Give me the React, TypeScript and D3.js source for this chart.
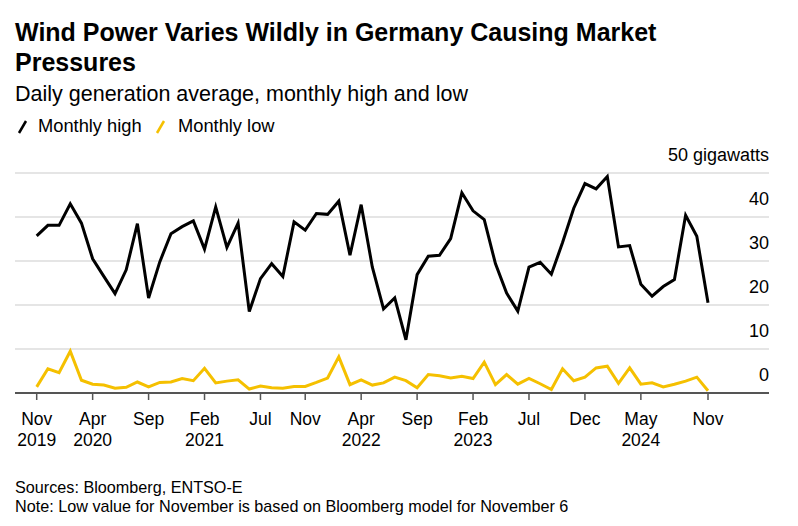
import React from "react";
import * as d3 from "d3";

const months: string[] = [
  "2019-11","2019-12","2020-01","2020-02","2020-03","2020-04","2020-05","2020-06","2020-07","2020-08",
  "2020-09","2020-10","2020-11","2020-12","2021-01","2021-02","2021-03","2021-04","2021-05","2021-06",
  "2021-07","2021-08","2021-09","2021-10","2021-11","2021-12","2022-01","2022-02","2022-03","2022-04",
  "2022-05","2022-06","2022-07","2022-08","2022-09","2022-10","2022-11","2022-12","2023-01","2023-02",
  "2023-03","2023-04","2023-05","2023-06","2023-07","2023-08","2023-09","2023-10","2023-11","2023-12",
  "2024-01","2024-02","2024-03","2024-04","2024-05","2024-06","2024-07","2024-08","2024-09","2024-10",
  "2024-11",
];

const monthlyHigh: number[] = [
  35.7, 38.1, 38.1, 43.0, 38.6, 30.5, 26.5, 22.6, 28.0, 38.5,
  21.6, 29.8, 36.2, 37.8, 39.1, 32.7, 42.3, 33.1, 38.6, 18.5,
  26.0, 29.4, 26.5, 38.9, 37.0, 40.8, 40.6, 43.6, 31.3, 42.8,
  28.6, 19.1, 21.6, 12.1, 26.9, 31.1, 31.3, 35.1, 45.5, 41.4,
  39.4, 29.4, 22.7, 18.6, 28.6, 29.7, 27.0, 34.2, 42.0, 47.6,
  46.4, 49.2, 33.2, 33.5, 24.7, 22.0, 24.2, 25.8, 40.4, 35.6,
  20.5,
];

const monthlyLow: number[] = [
  1.4, 5.5, 4.6, 9.5, 2.9, 2.0, 1.8, 1.1, 1.3, 2.5,
  1.4, 2.4, 2.5, 3.3, 2.8, 5.6, 2.3, 2.7, 3.0, 0.9,
  1.6, 1.2, 1.1, 1.5, 1.5, 2.4, 3.4, 8.2, 1.9, 3.0,
  1.8, 2.3, 3.6, 2.8, 1.2, 4.2, 3.9, 3.4, 3.8, 3.3,
  7.0, 1.9, 4.2, 2.0, 3.3, 2.1, 0.8, 5.5, 2.8, 3.6,
  5.7, 6.1, 2.2, 5.7, 2.0, 2.3, 1.4, 2.0, 2.7, 3.6,
  0.5,
];

const xTicks: { month: string; label: string; year: string }[] = [
  { month: "2019-11", label: "Nov", year: "2019" },
  { month: "2020-04", label: "Apr", year: "2020" },
  { month: "2020-09", label: "Sep", year: "" },
  { month: "2021-02", label: "Feb", year: "2021" },
  { month: "2021-07", label: "Jul", year: "" },
  { month: "2021-11", label: "Nov", year: "" },
  { month: "2022-04", label: "Apr", year: "2022" },
  { month: "2022-09", label: "Sep", year: "" },
  { month: "2023-02", label: "Feb", year: "2023" },
  { month: "2023-07", label: "Jul", year: "" },
  { month: "2023-12", label: "Dec", year: "" },
  { month: "2024-05", label: "May", year: "2024" },
  { month: "2024-11", label: "Nov", year: "" },
];

const yTicks: number[] = [0, 10, 20, 30, 40, 50];

const FONT = "'Liberation Sans', Arial, sans-serif";
const YELLOW = "#f5c000";

export default function App() {
  const W = 798;
  const H = 526;
  const gridLeft = 15;
  const gridRight = 769;
  const x = d3.scaleLinear().domain([0, months.length - 1]).range([36.7, 708]);
  const y = d3.scaleLinear().domain([0, 50]).range([393, 173]);
  const idx = (m: string) => months.indexOf(m);

  const line = d3
    .line<number>()
    .x((_, i) => x(i))
    .y((d) => y(d))
    .curve(d3.curveLinear);

  return (
    <svg width={W} height={H} style={{ position: "absolute", left: 0, top: 0, background: "#fff" }} fontFamily={FONT}>
      <rect width={W} height={H} fill="#fff" />
      <text x={15} y={41} fontSize={25} fontWeight="bold" fill="#000">
        Wind Power Varies Wildly in Germany Causing Market
      </text>
      <text x={15} y={71} fontSize={25} fontWeight="bold" fill="#000">
        Pressures
      </text>
      <text x={15} y={101} fontSize={21.5} fill="#000">
        Daily generation average, monthly high and low
      </text>
      {/* legend */}
      <line x1={19} y1={133} x2={26} y2={121} stroke="#000" strokeWidth={2.5} />
      <text x={38} y={132} fontSize={18.3} fill="#000">Monthly high</text>
      <line x1={157} y1={133} x2={164} y2={121} stroke={YELLOW} strokeWidth={2.5} />
      <text x={178} y={132} fontSize={18.3} fill="#000">Monthly low</text>

      {/* grid */}
      {yTicks.map((t) => (
        <g key={t}>
          {t > 0 && (
            <line x1={gridLeft} x2={gridRight} y1={y(t)} y2={y(t)} stroke="#dcdcdc" strokeWidth={1.5} />
          )}
          <text x={gridRight} y={y(t) - 12} fontSize={18} textAnchor="end" fill="#000">
            {t === 50 ? "50 gigawatts" : String(t)}
          </text>
        </g>
      ))}

      {/* lines */}
      <path d={line(monthlyLow) || ""} fill="none" stroke={YELLOW} strokeWidth={3} strokeLinejoin="miter" />
      <path d={line(monthlyHigh) || ""} fill="none" stroke="#000" strokeWidth={3} strokeLinejoin="miter" />

      {/* axis */}
      <line x1={gridLeft} x2={gridRight} y1={y(0)} y2={y(0)} stroke="#555" strokeWidth={2} />
      {xTicks.map((t) => {
        const xi = x(idx(t.month));
        return (
          <g key={t.month}>
            <line x1={xi} x2={xi} y1={y(0)} y2={y(0) + 7} stroke="#555" strokeWidth={1.5} />
            <text x={xi} y={425} fontSize={17.5} textAnchor="middle" fill="#000">{t.label}</text>
            {t.year && (
              <text x={xi} y={446} fontSize={17.5} textAnchor="middle" fill="#000">{t.year}</text>
            )}
          </g>
        );
      })}

      <text x={15} y={493} fontSize={16.2} fill="#000">Sources: Bloomberg, ENTSO-E</text>
      <text x={15} y={512} fontSize={16.2} fill="#000">Note: Low value for November is based on Bloomberg model for November 6</text>
    </svg>
  );
}
